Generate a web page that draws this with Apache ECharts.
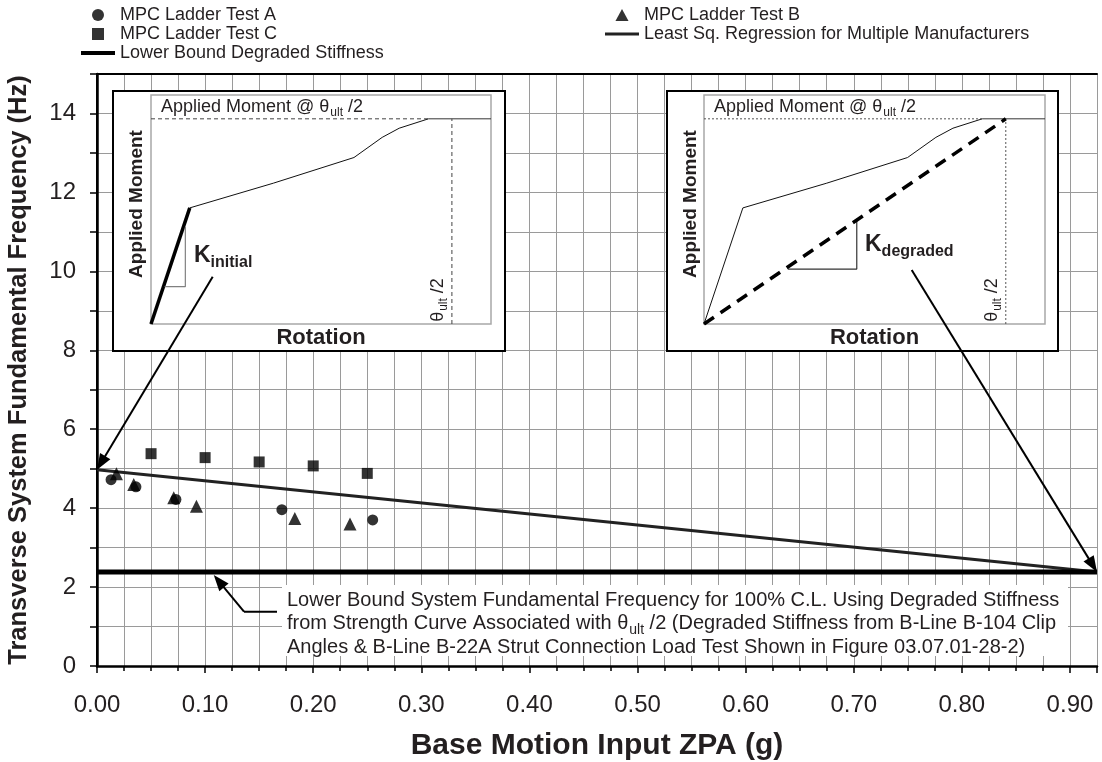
<!DOCTYPE html>
<html>
<head>
<meta charset="utf-8">
<script src="https://cdn.jsdelivr.net/npm/echarts@6/dist/echarts.min.js"></script>
<style>
  html, body { margin: 0; padding: 0; background: #fff; }
  #chart { width: 1102px; height: 762px; }
</style>
</head>
<body>
<div id="chart"></div>
<script>
// ---- Data ----------------------------------------------------------------
const xRange = [0, 0.925];          // Base motion input ZPA (g)
const yRange = [0, 15];             // Frequency (Hz)

// [ZPA (g), frequency (Hz)]
const testA = [[0.013, 4.72], [0.036, 4.54], [0.073, 4.22], [0.171, 3.96], [0.255, 3.70]];
const testB = [[0.018, 4.87], [0.034, 4.60], [0.071, 4.26], [0.092, 4.05], [0.183, 3.74], [0.234, 3.60]];
const testC = [[0.050, 5.38], [0.100, 5.28], [0.150, 5.17], [0.200, 5.07], [0.250, 4.88]];
const regression = [[0, 4.97], [0.925, 2.38]];
const lowerBound = [[0, 2.38], [0.925, 2.38]];
const lowerBoundPointer = [0.108, 2.38];

const seriesNames = [
  'MPC Ladder Test A',
  'MPC Ladder Test B',
  'MPC Ladder Test C',
  'Least Sq. Regression for Multiple Manufacturers',
  'Lower Bound Degraded Stiffness'
];
const xTitle = 'Base Motion Input ZPA (g)';
const yTitle = 'Transverse System Fundamental Frequency (Hz)';

// Schematic moment–rotation sketches (normalised 0–100 on both axes)
const sketchCurve = [[0, 0], [11.4, 50.7], [36, 61.5], [59.7, 72.7], [68, 81.5], [73, 85.5], [81.6, 89.6]];
const sketchInitialLeg = [[0, 0], [11.4, 50.7]];
const sketchTopDashed = [[0, 89.6], [81.6, 89.6]];
const sketchTopSolid = [[81.6, 89.6], [100, 89.6]];
const sketchThetaLine = [[88.5, 0], [88.5, 89.6]];
const sketchDegraded = [[0, 0], [88.5, 89.6]];
const slopeInitial = [[4.0, 16.3], [10.1, 16.3], [10.1, 42.4]];
const slopeDegraded = [[24.6, 24.0], [44.8, 24.0], [44.8, 45.5]];

const noteLines = [
  'Lower Bound System Fundamental Frequency for 100% C.L. Using Degraded Stiffness',
  ['from Strength Curve Associated with θ', 'ult', ' /2 (Degraded Stiffness from B-Line B-104 Clip'],
  'Angles & B-Line B-22A Strut Connection Load Test Shown in Figure 03.07.01-28-2)'
];

// ---- Styling helpers -----------------------------------------------------
const FONT = '"Liberation Sans", Arial, Helvetica, sans-serif';
const INK = '#231f20';
const GRID_GRAY = '#9a9a9a';

function isMultiple(v, step) {
  const r = v / step;
  return Math.abs(r - Math.round(r)) < 1e-6;
}

const hiddenAxis = (gridIndex) => ({
  type: 'value', gridIndex, min: 0, max: 100, show: false,
  splitLine: { show: false }, axisLine: { show: false }, axisTick: { show: false }, axisLabel: { show: false }
});

function sketchLine(data, xi, yi, width, type, color) {
  return {
    type: 'line', data, xAxisIndex: xi, yAxisIndex: yi, symbol: 'none', silent: true,
    z: 12, animation: false,
    lineStyle: { width, type: type || 'solid', color: color || '#000', cap: 'butt' }
  };
}

// Inset (sketch) frames in pixels
const insetLeft = { outer: [113, 91, 392, 260], inner: [151, 95, 340, 229] };
const insetRight = { outer: [667, 91, 391, 260], inner: [704, 95, 341, 229] };

const legendText = { fontSize: 18, color: INK, fontFamily: FONT };
const lineIcon = (h) => 'path://M0,0H34V' + h + 'H0Z';
const squareIcon = 'path://M0,0H11V11H0Z';
const triangleIcon = 'path://M6,0L12,11H0Z';

const chart = echarts.init(document.getElementById('chart'), null, { renderer: 'canvas' });

const option = {
  animation: false,
  backgroundColor: '#fff',
  textStyle: { fontFamily: FONT },
  grid: [
    { left: 97, right: 5, top: 74, bottom: 96, containLabel: false, outerBoundsMode: 'none' },
    { left: insetLeft.inner[0], top: insetLeft.inner[1], width: insetLeft.inner[2], height: insetLeft.inner[3],
      show: true, borderColor: '#a8a8a8', borderWidth: 1.5, backgroundColor: '#fff', z: 11, outerBoundsMode: 'none' },
    { left: insetRight.inner[0], top: insetRight.inner[1], width: insetRight.inner[2], height: insetRight.inner[3],
      show: true, borderColor: '#a8a8a8', borderWidth: 1.5, backgroundColor: '#fff', z: 11, outerBoundsMode: 'none' }
  ],
  legend: [
    {
      data: [
        { name: seriesNames[0], icon: 'circle' },
        { name: seriesNames[2], icon: squareIcon },
        { name: seriesNames[4], icon: lineIcon(4) }
      ],
      orient: 'vertical', left: 81, top: 6, padding: 0, symbolKeepAspect: true,
      itemWidth: 34, itemHeight: 12, itemGap: 1, selectedMode: false,
      textStyle: legendText
    },
    {
      data: [
        { name: seriesNames[1], icon: triangleIcon },
        { name: seriesNames[3], icon: lineIcon(3) }
      ],
      orient: 'vertical', left: 605, top: 6, padding: 0, symbolKeepAspect: true,
      itemWidth: 34, itemHeight: 12, itemGap: 1, selectedMode: false,
      textStyle: legendText
    }
  ],
  xAxis: [
    {
      type: 'value', gridIndex: 0, min: xRange[0], max: xRange[1], interval: 0.025,
      name: xTitle, nameLocation: 'middle', nameGap: 65,
      nameTextStyle: { fontSize: 30, fontWeight: 'bold', color: INK, fontFamily: FONT },
      axisLine: { lineStyle: { color: '#000', width: 2.5 } },
      axisTick: { show: true, length: 5, lineStyle: { color: '#000', width: 1.5 } },
      axisLabel: {
        fontSize: 24, color: INK, margin: 27, fontFamily: FONT,
        formatter: (v) => isMultiple(v, 0.1) && v < 0.92 ? v.toFixed(2) : ''
      },
      splitLine: { show: true, lineStyle: { color: GRID_GRAY, width: 1 } }
    },
    {
      type: 'value', gridIndex: 0, position: 'bottom', min: xRange[0], max: xRange[1], interval: 0.1,
      axisLine: { show: false }, axisLabel: { show: false }, splitLine: { show: false },
      axisTick: { show: true, length: 7, lineStyle: { color: '#000', width: 1.5 } }
    },
    {
      type: 'value', gridIndex: 0, position: 'top', min: xRange[0], max: xRange[1], z: 3,
      axisLine: { show: true, lineStyle: { color: '#000', width: 2 } },
      axisTick: { show: false }, axisLabel: { show: false }, splitLine: { show: false }
    },
    hiddenAxis(1),
    hiddenAxis(2)
  ],
  yAxis: [
    {
      type: 'value', gridIndex: 0, min: yRange[0], max: yRange[1], interval: 1,
      name: yTitle, nameLocation: 'middle', nameGap: 65, nameRotate: 90,
      nameTextStyle: { fontSize: 25.5, fontWeight: 'bold', color: INK, fontFamily: FONT },
      axisLine: { lineStyle: { color: '#000', width: 2.5 } },
      axisTick: { show: true, length: 7, lineStyle: { color: '#000', width: 1.5 } },
      axisLabel: {
        fontSize: 24, color: INK, margin: 21, fontFamily: FONT,
        formatter: (v) => (v % 2 === 0 && v < 15) ? String(v) : ''
      },
      splitLine: { show: true, lineStyle: { color: GRID_GRAY, width: 1 } }
    },
    {
      type: 'value', gridIndex: 0, position: 'right', min: yRange[0], max: yRange[1], z: 3,
      axisLine: { show: true, lineStyle: { color: '#000', width: 2 } },
      axisTick: { show: false }, axisLabel: { show: false }, splitLine: { show: false }
    },
    hiddenAxis(1),
    hiddenAxis(2)
  ],
  series: [
    { name: seriesNames[0], type: 'scatter', data: testA, symbol: 'circle', symbolSize: 11,
      itemStyle: { color: '#000' }, z: 4 },
    { name: seriesNames[1], type: 'scatter', data: testB, symbol: 'triangle', symbolSize: 13,
      itemStyle: { color: '#000' }, z: 4 },
    { name: seriesNames[2], type: 'scatter', data: testC, symbol: 'rect', symbolSize: 11,
      itemStyle: { color: '#000' }, z: 4 },
    { name: seriesNames[3], type: 'line', data: regression, symbol: 'none',
      lineStyle: { color: '#222', width: 3 }, itemStyle: { color: '#222' }, z: 3 },
    { name: seriesNames[4], type: 'line', data: lowerBound, symbol: 'none',
      lineStyle: { color: '#000', width: 5 }, itemStyle: { color: '#000' }, z: 3 },

    // left sketch: initial stiffness
    sketchLine(sketchCurve.slice(1), 3, 2, 1, 'solid', '#111'),
    sketchLine(sketchInitialLeg, 3, 2, 3.5, 'solid', '#000'),
    sketchLine(sketchTopDashed, 3, 2, 1, [4, 3], '#444'),
    sketchLine(sketchTopSolid, 3, 2, 1, 'solid', '#333'),
    sketchLine(sketchThetaLine, 3, 2, 1, [4, 3], '#444'),
    sketchLine(slopeInitial, 3, 2, 1.2, 'solid', '#808080'),

    // right sketch: degraded stiffness
    sketchLine(sketchCurve, 4, 3, 1, 'solid', '#111'),
    sketchLine(sketchTopDashed, 4, 3, 1, [2, 2], '#555'),
    sketchLine(sketchTopSolid, 4, 3, 1, 'solid', '#333'),
    sketchLine(sketchThetaLine, 4, 3, 1, [2, 2], '#555'),
    sketchLine(slopeDegraded, 4, 3, 1.2, 'solid', '#333'),
    sketchLine(sketchDegraded, 4, 3, 3.5, [12, 8], '#000')
  ]
};

chart.setOption(option);

// ---- Annotations (frames, labels, pointers) -----------------------------
function arrow(from, tip, len, half, width) {
  const dx = tip[0] - from[0], dy = tip[1] - from[1];
  const L = Math.hypot(dx, dy);
  const ux = dx / L, uy = dy / L;
  const bx = tip[0] - ux * len, by = tip[1] - uy * len;
  const px = -uy, py = ux;
  return [
    { type: 'line', z: 20, silent: true,
      shape: { x1: from[0], y1: from[1], x2: bx + ux * 2, y2: by + uy * 2 },
      style: { stroke: '#000', lineWidth: width } },
    { type: 'polygon', z: 20, silent: true,
      shape: { points: [tip, [bx + px * half, by + py * half], [bx - px * half, by - py * half]] },
      style: { fill: '#000' } }
  ];
}

function frame(box) {
  return { type: 'rect', z: 10, silent: true,
    shape: { x: box[0], y: box[1], width: box[2], height: box[3] },
    style: { fill: '#fff', stroke: '#000', lineWidth: 2 } };
}

function text(x, y, t, opts) {
  return Object.assign({ type: 'text', z: 15, silent: true, x, y,
    style: Object.assign({ text: t, fill: INK, font: '16px ' + FONT, align: 'left', verticalAlign: 'middle' },
      opts && opts.style || {}) }, opts && opts.el || {});
}

function momentHeader(x, y) {
  return { type: 'text', z: 15, silent: true, x, y,
    style: {
      text: '{a|Applied Moment @ θ}{s|ult}{a| /2}',
      align: 'left', verticalAlign: 'middle',
      rich: {
        a: { fontSize: 18, fontFamily: FONT, fill: INK, color: INK },
        s: { fontSize: 12, fontFamily: FONT, fill: INK, color: INK, padding: [12, 0, 0, 1] }
      }
    } };
}

function thetaLabel(x, y) {
  return { type: 'text', z: 15, silent: true, x, y, rotation: Math.PI / 2,
    style: {
      text: '{a|θ}{s|ult}{a| /2}',
      align: 'center', verticalAlign: 'middle',
      rich: {
        a: { fontSize: 18, fontFamily: FONT, fill: INK, color: INK },
        s: { fontSize: 12, fontFamily: FONT, fill: INK, color: INK, padding: [12, 0, 0, 1] }
      }
    } };
}

function kLabel(x, y, sub) {
  return { type: 'text', z: 15, silent: true, x, y,
    style: {
      text: '{k|K}{s|' + sub + '}',
      align: 'left', verticalAlign: 'middle',
      rich: {
        k: { fontSize: 23, fontWeight: 'bold', fontFamily: FONT, fill: INK, color: INK },
        s: { fontSize: 16, fontWeight: 'bold', fontFamily: FONT, fill: INK, color: INK, padding: [13, 0, 0, 0] }
      }
    } };
}

function sketchAnnotations(inset) {
  const o = inset.outer, i = inset.inner;
  return [
    frame(o),
    momentHeader(i[0] + 10, 107),
    text(o[0] + 24, 204, 'Applied Moment', {
      style: { font: 'bold 19px ' + FONT, align: 'center' }, el: { rotation: Math.PI / 2 } }),
    text(i[0] + i[2] / 2, 338, 'Rotation', { style: { font: 'bold 22px ' + FONT, align: 'center' } }),
    thetaLabel(i[0] + i[2] * 0.885 - 14, 300)
  ];
}

function drawAnnotations() {
  const toPx = (p) => chart.convertToPixel({ gridIndex: 0 }, p);
  const tipInitial = toPx(regression[0]);
  const tipDegraded = toPx(regression[regression.length - 1]);
  const tipLower = toPx(lowerBoundPointer);
  tipLower[1] += 3;

  const elems = [];
  elems.push(...sketchAnnotations(insetLeft));
  elems.push(...sketchAnnotations(insetRight));
  elems.push(kLabel(194, 256, 'initial'));
  elems.push(kLabel(865, 245, 'degraded'));

  // note box under the lower-bound line
  elems.push({ type: 'rect', z: 10, silent: true,
    shape: { x: 282, y: 585, width: 786, height: 71 },
    style: { fill: '#fff', stroke: null } });
  const noteY = [600, 623.5, 647];
  noteLines.forEach((line, k) => {
    if (Array.isArray(line)) {
      elems.push({ type: 'text', z: 15, silent: true, x: 287, y: noteY[k],
        style: {
          text: '{a|' + line[0] + '}{s|' + line[1] + '}{a|' + line[2] + '}',
          align: 'left', verticalAlign: 'middle',
          rich: {
            a: { fontSize: 20, fontFamily: FONT, fill: INK, color: INK },
            s: { fontSize: 14, fontFamily: FONT, fill: INK, color: INK, padding: [13, 0, 0, 1] }
          }
        } });
    } else {
      elems.push(text(287, noteY[k], line, { style: { font: '20px ' + FONT } }));
    }
  });

  // pointers
  elems.push(...arrow([212.7, 276.7], tipInitial, 16, 6, 2));
  elems.push(...arrow([911.7, 270], tipDegraded, 16, 6, 2));
  elems.push({ type: 'polyline', z: 20, silent: true,
    shape: { points: [[277, 611.7], [244, 611.7]] },
    style: { stroke: '#000', lineWidth: 2 } });
  elems.push(...arrow([244, 611.7], tipLower, 16, 6, 2));

  chart.setOption({ graphic: elems });
}

drawAnnotations();
</script>
</body>
</html>
